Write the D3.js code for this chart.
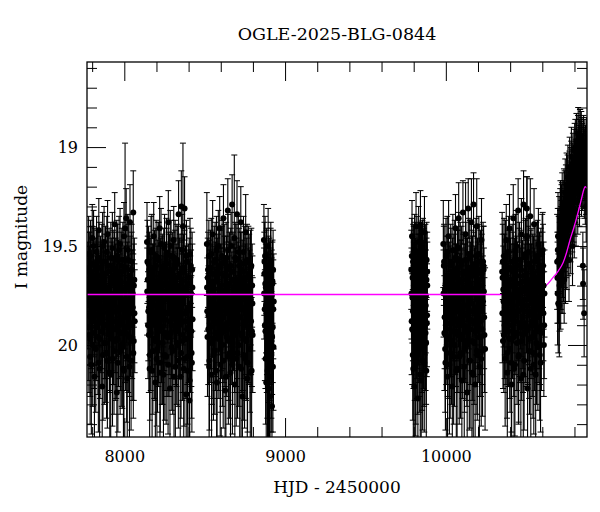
<!DOCTYPE html>
<html>
<head>
<meta charset="utf-8">
<script src="https://cdn.jsdelivr.net/npm/d3@7"></script>
<style>
  body { margin: 0; background: #fff; }
  text { font-family: "DejaVu Serif", serif; fill: #000; }
</style>
</head>
<body>
<svg id="lc" width="600" height="512"></svg>
<script>
// [HJD, I mag, error] per observing season
const season1 = [
  [7773.8,19.79,0.23],[7776.5,19.62,0.19],[7779.9,19.95,0.29],[7783.1,19.71,0.21],[7787.4,20.06,0.34],[7790.2,19.55,0.18],
  [7793.8,19.86,0.26],[7797.0,19.74,0.22],[7800.7,19.46,0.17],[7803.5,20.00,0.31],[7807.9,19.68,0.20],[7810.6,19.82,0.24],
  [7814.3,20.16,0.38],[7817.0,19.60,0.19],[7821.2,19.77,0.22],[7824.8,19.91,0.27],[7827.5,19.53,0.18],[7831.6,19.85,0.25],
  [7834.1,19.70,0.21],[7838.7,20.09,0.35],[7841.4,19.42,0.16],[7844.9,19.78,0.23],[7848.2,19.97,0.30],[7851.8,19.65,0.20],
  [7855.3,19.88,0.26],[7858.0,19.72,0.22],[7862.6,20.21,0.40],[7865.1,19.50,0.17],[7868.9,19.81,0.24],[7872.4,19.67,0.20],
  [7875.7,19.99,0.31],[7879.0,19.75,0.22],[7882.8,19.58,0.18],[7886.1,19.90,0.27],[7889.5,20.04,0.33],[7892.9,19.73,0.21],
  [7896.0,19.44,0.17],[7899.6,19.84,0.25],[7902.8,19.63,0.20],[7906.5,19.94,0.29],[7909.7,20.14,0.37],[7913.3,19.76,0.22],
  [7916.1,19.56,0.18],[7919.8,19.87,0.26],[7923.4,19.69,0.21],[7926.6,20.07,0.34],[7930.2,19.61,0.19],[7933.5,19.92,0.28],
  [7937.1,19.80,0.23],[7940.3,19.39,0.16],[7943.9,19.98,0.30],[7947.2,19.66,0.20],[7950.8,19.83,0.24],[7953.6,20.24,0.41],
  [7957.3,19.57,0.18],[7960.5,19.75,0.22],[7964.1,19.93,0.28],[7967.4,19.52,0.17],[7970.9,19.81,0.24],[7974.2,20.03,0.32],
  [7977.8,19.68,0.20],[7981.0,19.89,0.27],[7984.6,19.60,0.19],[7987.9,20.01,0.31],[7991.3,19.72,0.21],[7994.7,20.12,0.36],
  [7998.0,19.45,0.17],[8001.5,19.79,0.23],[8004.8,19.41,0.43],[8008.1,19.94,0.29],[8011.6,19.36,0.15],[8014.9,19.77,0.22],
  [8018.3,20.17,0.38],[8021.7,19.86,0.25],[8025.0,19.57,0.18],[8028.6,19.71,0.21],[8031.8,19.96,0.30],[8035.4,19.38,0.19],
  [8038.5,19.84,0.24],[8042.1,20.08,0.35],[8045.6,19.62,0.19],[8048.9,19.90,0.27],[8052.3,19.74,0.22],[8055.7,19.33,0.21],
  [8059.0,19.98,0.30],[8062.4,19.67,0.21],[8064.8,19.88,0.26]
];
const season1b = [
  [7772.9,19.70,0.22],[7775.2,19.91,0.27],[7778.0,19.54,0.19],[7781.3,19.85,0.25],[7784.6,19.63,0.20],[7788.1,19.97,0.29],
  [7791.5,19.76,0.23],[7795.0,20.10,0.35],[7798.3,19.59,0.19],[7801.9,19.88,0.26],[7805.2,19.72,0.22],[7808.8,19.50,0.18],
  [7812.1,19.94,0.28],[7815.6,19.81,0.24],[7819.0,19.66,0.20],[7822.5,20.02,0.32],[7825.9,19.74,0.22],[7829.3,19.89,0.27],
  [7832.8,19.61,0.19],[7836.2,19.96,0.29],[7839.8,19.77,0.23],[7843.1,19.56,0.18],[7846.5,20.12,0.36],[7850.0,19.83,0.25],
  [7853.6,19.69,0.21],[7857.0,19.93,0.28],[7860.4,19.58,0.19],[7863.9,19.86,0.26],[7867.3,20.05,0.33],[7870.7,19.73,0.22],
  [7874.2,19.48,0.18],[7877.6,19.90,0.27],[7881.0,19.64,0.20],[7884.5,19.99,0.30],[7887.9,19.79,0.24],[7891.3,19.53,0.18],
  [7894.8,20.08,0.34],[7898.2,19.71,0.21],[7901.6,19.87,0.26],[7905.1,19.60,0.19],[7908.5,19.95,0.29],[7911.9,19.75,0.22],
  [7915.4,20.15,0.37],[7918.8,19.66,0.20],[7922.2,19.84,0.25],[7925.7,19.51,0.18],[7929.1,19.92,0.28],[7932.5,19.78,0.23],
  [7936.0,20.03,0.32],[7939.4,19.62,0.19],[7942.8,19.88,0.26],[7946.3,19.70,0.21],[7949.7,19.97,0.30],[7953.1,19.55,0.18],
  [7956.6,19.82,0.24],[7960.0,20.09,0.35],[7963.4,19.68,0.21],[7966.9,19.90,0.27],[7970.3,19.76,0.22],[7973.7,19.49,0.18],
  [7977.2,19.94,0.29],[7980.6,19.63,0.20],[7984.0,20.00,0.31],[7987.5,19.80,0.24],[7990.9,19.57,0.19],[7994.3,19.86,0.26],
  [7997.8,20.13,0.36],[8001.2,19.72,0.22],[8004.6,19.91,0.28],[8008.0,19.61,0.19],[8011.5,19.83,0.25],[8014.9,20.06,0.33],
  [8018.3,19.69,0.21],[8021.8,19.52,0.18],[8025.2,19.95,0.29],[8028.6,19.77,0.23],[8032.1,20.11,0.36],[8035.5,19.65,0.20],
  [8038.9,19.89,0.27],[8042.4,19.74,0.22],[8045.8,19.58,0.19],[8049.2,19.98,0.30],[8052.7,19.81,0.24],[8056.1,20.04,0.33],
  [8059.5,19.70,0.21],[8063.0,19.84,0.25]
];
const season2 = [
  [8141.2,19.48,0.20],[8143.6,19.58,0.21],[8145.9,19.67,0.22],[8149.3,19.83,0.25],[8152.7,19.95,0.29],[8156.0,19.62,0.19],
  [8159.4,20.05,0.33],[8162.8,19.74,0.22],[8166.1,19.53,0.18],[8169.5,19.88,0.26],[8172.9,20.13,0.37],[8176.2,19.69,0.20],
  [8179.6,19.80,0.24],[8183.0,19.45,0.17],[8186.3,19.97,0.30],[8189.7,19.76,0.22],[8193.1,20.19,0.39],[8196.4,19.60,0.19],
  [8199.8,19.85,0.25],[8203.2,19.71,0.21],[8206.5,20.02,0.32],[8209.9,19.56,0.18],[8213.3,19.91,0.28],[8216.6,19.78,0.23],
  [8220.0,19.41,0.16],[8223.4,20.09,0.35],[8226.7,19.66,0.20],[8230.1,19.82,0.24],[8233.5,19.99,0.31],[8236.8,19.63,0.19],
  [8240.2,19.87,0.26],[8243.6,20.15,0.37],[8246.9,19.73,0.22],[8250.3,19.51,0.17],[8253.7,19.94,0.29],[8257.0,19.70,0.21],
  [8260.4,20.06,0.34],[8263.8,19.59,0.18],[8267.1,19.84,0.25],[8270.5,19.77,0.22],[8273.9,19.38,0.16],[8277.2,19.96,0.30],
  [8280.6,19.64,0.20],[8284.0,20.22,0.40],[8287.3,19.81,0.24],[8290.7,19.55,0.18],[8294.1,19.90,0.27],[8297.4,19.68,0.21],
  [8300.8,20.03,0.32],[8304.2,19.75,0.22],[8307.5,19.47,0.17],[8310.9,19.86,0.26],[8314.3,19.61,0.19],[8317.6,20.11,0.36],
  [8321.0,19.79,0.23],[8324.4,19.93,0.28],[8327.7,19.57,0.18],[8331.1,19.72,0.21],[8334.5,20.00,0.31],[8337.8,19.34,0.17],
  [8341.2,19.83,0.24],[8344.6,19.66,0.20],[8347.9,20.16,0.38],[8351.3,19.89,0.27],[8354.7,19.30,0.18],[8358.0,19.76,0.22],
  [8361.4,19.98,0.30],[8364.8,19.40,0.42],[8368.1,19.63,0.19],[8371.5,20.07,0.34],[8374.9,19.31,0.16],[8378.2,19.84,0.25],
  [8381.6,19.71,0.21],[8385.0,20.25,0.41],[8388.3,19.58,0.18],[8391.7,19.92,0.28],[8395.1,20.13,0.37],[8398.4,19.69,0.20],
  [8401.8,19.81,0.24],[8405.2,20.28,0.42],[8408.5,19.54,0.18],[8411.9,19.95,0.29],[8415.3,19.74,0.22],[8418.6,20.04,0.33],
  [8422.0,19.62,0.19],[8424.7,19.87,0.26]
];
const season2b = [
  [8142.5,19.73,0.22],[8147.6,19.90,0.27],[8151.0,19.59,0.19],[8154.4,19.81,0.24],[8157.7,20.12,0.36],[8161.1,19.66,0.20],
  [8164.5,19.94,0.29],[8167.8,19.77,0.23],[8171.2,19.52,0.18],[8174.6,19.86,0.26],[8177.9,20.03,0.32],[8181.3,19.70,0.21],
  [8184.7,19.89,0.27],[8188.0,19.61,0.19],[8191.4,19.98,0.30],[8194.8,19.75,0.22],[8198.1,19.55,0.18],[8201.5,20.07,0.34],
  [8204.9,19.83,0.25],[8208.2,19.68,0.21],[8211.6,19.93,0.28],[8215.0,19.57,0.19],[8218.3,19.80,0.24],[8221.7,20.14,0.37],
  [8225.1,19.72,0.22],[8228.4,19.49,0.18],[8231.8,19.91,0.28],[8235.2,19.65,0.20],[8238.5,19.99,0.31],[8241.9,19.78,0.23],
  [8245.3,19.60,0.19],[8248.6,19.87,0.26],[8252.0,20.05,0.33],[8255.4,19.69,0.21],[8258.7,19.84,0.25],[8262.1,19.54,0.18],
  [8265.5,19.96,0.30],[8268.8,19.74,0.22],[8272.2,20.10,0.35],[8275.6,19.63,0.20],[8278.9,19.88,0.27],[8282.3,19.71,0.22],
  [8285.7,19.50,0.18],[8289.0,19.94,0.29],[8292.4,19.79,0.23],[8295.8,20.01,0.32],[8299.1,19.62,0.19],[8302.5,19.85,0.26],
  [8305.9,19.67,0.21],[8309.2,20.16,0.38],[8312.6,19.76,0.22],[8316.0,19.56,0.19],[8319.3,19.92,0.28],[8322.7,19.70,0.21],
  [8326.1,19.99,0.31],[8329.4,19.82,0.24],[8332.8,19.59,0.19],[8336.2,20.08,0.34],[8339.5,19.73,0.22],[8342.9,19.90,0.27],
  [8346.3,19.64,0.20],[8349.6,19.85,0.25],[8353.0,20.04,0.33],[8356.4,19.68,0.21],[8359.7,19.52,0.18],[8363.1,19.95,0.29],
  [8366.5,19.77,0.23],[8369.8,20.12,0.36],[8373.2,19.61,0.19],[8376.6,19.88,0.26],[8379.9,19.72,0.22],[8383.3,19.97,0.30],
  [8386.7,19.55,0.18],[8390.0,19.83,0.25],[8393.4,20.06,0.34],[8396.8,19.74,0.22],[8400.1,19.91,0.28],[8403.5,19.66,0.20],
  [8406.9,20.18,0.39],[8410.2,19.79,0.24],[8413.6,19.60,0.19],[8417.0,19.93,0.28],[8420.3,20.09,0.35],[8423.5,19.71,0.22]
];
const season3 = [
  [8513.5,19.49,0.26],[8515.8,19.83,0.27],[8519.2,19.66,0.20],[8522.6,19.92,0.28],[8525.9,19.55,0.18],[8529.3,20.08,0.35],
  [8532.7,19.74,0.22],[8536.0,19.61,0.19],[8539.4,19.86,0.26],[8542.8,20.15,0.38],[8546.1,19.70,0.21],[8549.5,19.44,0.17],
  [8552.9,19.97,0.30],[8556.2,19.79,0.23],[8559.6,19.58,0.18],[8563.0,20.03,0.32],[8566.3,19.68,0.20],[8569.7,19.89,0.27],
  [8573.1,19.52,0.17],[8576.4,20.19,0.39],[8579.8,19.75,0.22],[8583.2,19.64,0.20],[8586.5,19.94,0.29],[8589.9,19.81,0.24],
  [8593.3,19.41,0.16],[8596.6,20.10,0.36],[8600.0,19.72,0.21],[8603.4,19.87,0.26],[8606.7,19.59,0.19],[8610.1,20.00,0.31],
  [8613.5,19.77,0.22],[8616.8,19.36,0.17],[8620.2,19.91,0.28],[8623.6,19.65,0.20],[8626.9,20.23,0.40],[8630.3,19.83,0.24],
  [8633.7,19.56,0.18],[8637.0,19.96,0.30],[8640.4,19.70,0.21],[8643.8,19.32,0.16],[8647.1,20.06,0.34],[8650.5,19.78,0.23],
  [8653.9,19.62,0.19],[8657.2,19.88,0.27],[8660.6,20.14,0.37],[8664.0,19.50,0.17],[8667.3,19.85,0.25],[8670.7,19.29,0.15],
  [8674.1,19.99,0.31],[8677.4,19.67,0.20],[8680.8,19.80,0.24],[8684.2,19.46,0.42],[8687.5,20.20,0.40],[8690.9,19.73,0.22],
  [8694.3,19.57,0.18],[8697.6,19.93,0.28],[8701.0,19.34,0.17],[8704.4,20.04,0.33],[8707.7,19.69,0.21],[8711.1,19.86,0.26],
  [8714.5,19.60,0.19],[8717.8,20.11,0.36],[8721.2,19.76,0.22],[8724.6,19.38,0.18],[8727.9,19.95,0.29],[8731.3,19.63,0.20],
  [8734.7,20.26,0.41],[8738.0,19.82,0.24],[8741.4,19.53,0.18],[8744.8,19.90,0.27],[8748.1,20.07,0.35],[8751.5,19.71,0.21],
  [8754.9,19.43,0.19],[8758.2,19.98,0.30],[8761.6,19.66,0.20],[8765.0,20.17,0.38],[8768.3,19.84,0.25],[8771.7,19.58,0.18],
  [8775.1,19.92,0.28],[8778.4,19.74,0.22],[8781.8,20.02,0.32],[8785.2,19.61,0.19],[8788.5,19.88,0.27],[8791.9,20.13,0.37],
  [8795.3,19.70,0.21],[8798.6,19.95,0.29]
];
const season3b = [
  [8514.6,19.71,0.22],[8517.5,19.96,0.30],[8520.9,19.62,0.19],[8524.2,19.85,0.25],[8527.6,20.11,0.36],[8531.0,19.68,0.21],
  [8534.3,19.91,0.28],[8537.7,19.77,0.23],[8541.1,19.54,0.18],[8544.4,19.99,0.31],[8547.8,19.82,0.24],[8551.2,19.64,0.20],
  [8554.5,20.05,0.33],[8557.9,19.72,0.22],[8561.3,19.88,0.27],[8564.6,19.57,0.19],[8568.0,19.94,0.29],[8571.4,19.75,0.22],
  [8574.7,20.13,0.37],[8578.1,19.66,0.20],[8581.5,19.84,0.25],[8584.8,19.50,0.18],[8588.2,19.97,0.30],[8591.6,19.79,0.23],
  [8594.9,19.61,0.19],[8598.3,20.02,0.32],[8601.7,19.70,0.21],[8605.0,19.90,0.27],[8608.4,19.55,0.18],[8611.8,19.86,0.26],
  [8615.1,20.08,0.34],[8618.5,19.73,0.22],[8621.9,19.58,0.19],[8625.2,19.93,0.28],[8628.6,19.80,0.24],[8632.0,20.16,0.38],
  [8635.3,19.65,0.20],[8638.7,19.89,0.27],[8642.1,19.74,0.22],[8645.4,19.52,0.18],[8648.8,19.98,0.30],[8652.2,19.69,0.21],
  [8655.5,20.04,0.33],[8658.9,19.83,0.25],[8662.3,19.60,0.19],[8665.6,19.92,0.28],[8669.0,19.76,0.23],[8672.4,20.10,0.35],
  [8675.7,19.63,0.20],[8679.1,19.87,0.26],[8682.5,19.71,0.22],[8685.8,19.95,0.29],[8689.2,19.56,0.18],[8692.6,19.82,0.24],
  [8695.9,20.07,0.34],[8699.3,19.67,0.21],[8702.7,19.90,0.27],[8706.0,19.78,0.23],[8709.4,19.53,0.18],[8712.8,20.00,0.31],
  [8716.1,19.72,0.22],[8719.5,19.86,0.26],[8722.9,19.62,0.19],[8726.2,20.12,0.36],[8729.6,19.81,0.24],[8733.0,19.68,0.21],
  [8736.3,19.94,0.29],[8739.7,19.75,0.22],[8743.1,20.05,0.33],[8746.4,19.59,0.19],[8749.8,19.88,0.27],[8753.2,19.70,0.21],
  [8756.5,19.97,0.30],[8759.9,19.84,0.25],[8763.3,19.57,0.18],[8766.6,20.09,0.35],[8770.0,19.73,0.22],[8773.4,19.91,0.28],
  [8776.7,19.64,0.20],[8780.1,19.85,0.26],[8783.5,20.14,0.37],[8786.8,19.77,0.23],[8790.2,19.60,0.19],[8793.6,19.93,0.28],
  [8797.0,19.79,0.24]
];
const season4 = [
  [8868.4,19.47,0.18],[8870.9,19.64,0.21],[8873.2,19.82,0.25],[8875.6,19.55,0.20],[8877.9,19.93,0.29],[8880.3,19.71,0.22],
  [8882.8,20.19,0.30],[8885.1,19.60,0.19],[8887.5,19.88,0.27],[8889.8,20.04,0.33],[8892.2,19.76,0.23],[8894.7,19.50,0.19],
  [8897.0,20.22,0.31],[8899.4,19.85,0.26],[8901.7,19.67,0.21],[8904.1,19.98,0.30],[8906.6,20.26,0.34],[8908.9,19.73,0.22],
  [8911.3,19.58,0.20],[8913.6,20.09,0.35],[8916.0,19.80,0.24],[8918.5,20.31,0.36],[8920.8,19.69,0.21],[8923.2,19.91,0.28],
  [8925.5,19.62,0.20],[8927.9,20.01,0.32],[8929.6,19.78,0.24],
  [8869.6,19.74,0.23],[8872.0,19.58,0.20],[8874.4,19.90,0.28],[8876.8,19.69,0.22],[8879.1,20.07,0.33],[8881.5,19.80,0.24],
  [8884.0,19.63,0.21],[8886.3,19.95,0.29],[8888.7,19.72,0.22],[8891.0,20.13,0.34],[8893.4,19.86,0.26],[8895.9,19.66,0.21],
  [8898.2,19.99,0.30],[8900.5,19.77,0.23],[8902.9,20.16,0.34],[8905.3,19.70,0.22],[8907.8,19.92,0.28],[8910.1,19.61,0.20],
  [8912.4,19.84,0.25],[8914.8,20.05,0.32],[8917.3,19.75,0.23],[8919.6,19.96,0.29],[8922.0,19.68,0.21],[8924.4,20.11,0.33],
  [8926.7,19.82,0.25]
];
const season5 = [
  [9785.1,19.62,0.20],[9787.4,19.88,0.27],[9789.6,19.45,0.18],[9791.9,19.76,0.23],[9794.2,20.05,0.33],[9796.5,19.58,0.19],
  [9798.7,19.93,0.29],[9801.0,19.70,0.22],[9803.3,20.21,0.45],[9805.6,19.52,0.18],[9807.8,19.84,0.25],[9810.1,19.67,0.21],
  [9812.4,20.10,0.36],[9814.7,19.40,0.17],[9816.9,19.79,0.24],[9819.2,19.97,0.30],[9821.5,19.61,0.20],[9823.8,19.86,0.26],
  [9826.0,20.27,0.40],[9828.3,19.73,0.22],[9830.6,19.48,0.18],[9832.9,19.91,0.28],[9835.1,19.65,0.21],[9837.4,20.02,0.32],
  [9839.7,19.77,0.23],[9842.0,19.39,0.17],[9844.2,19.83,0.25],[9846.5,20.18,0.44],[9848.8,19.59,0.19],[9851.1,19.95,0.29],
  [9853.3,19.72,0.22],[9855.6,20.08,0.35],[9857.9,19.54,0.18],[9860.2,19.87,0.26],[9862.4,19.68,0.21],[9864.7,20.00,0.31],
  [9867.0,19.43,0.18],[9869.3,19.81,0.24],[9871.5,19.63,0.20],[9873.8,19.94,0.29],[9876.1,19.75,0.23],[9878.4,20.13,0.36],
  [9880.6,19.57,0.19],[9882.9,19.85,0.26],[9884.5,19.70,0.22],
  [9786.2,19.74,0.23],[9788.5,19.55,0.19],[9790.8,19.92,0.28],[9793.0,19.66,0.21],[9795.3,19.83,0.25],[9797.6,20.12,0.36],
  [9799.9,19.60,0.20],[9802.1,19.87,0.26],[9804.4,19.71,0.22],[9806.7,19.98,0.30],[9809.0,19.57,0.19],[9811.2,19.80,0.24],
  [9813.5,20.06,0.34],[9815.8,19.68,0.21],[9818.1,19.90,0.27],[9820.3,19.53,0.18],[9822.6,19.76,0.23],[9824.9,20.03,0.32],
  [9827.2,19.64,0.20],[9829.4,19.85,0.25],[9831.7,19.72,0.22],[9834.0,19.96,0.30],[9836.3,19.59,0.19],[9838.5,19.82,0.24],
  [9840.8,20.15,0.37],[9843.1,19.69,0.21],[9845.4,19.88,0.26],[9847.6,19.62,0.20],[9849.9,19.78,0.23],[9852.2,20.01,0.32],
  [9854.5,19.56,0.19],[9856.7,19.84,0.25],[9859.0,19.70,0.22],[9861.3,19.93,0.29],[9863.6,19.61,0.20],[9865.8,20.09,0.35],
  [9868.1,19.75,0.23],[9870.4,19.87,0.26],[9872.7,19.58,0.19],[9874.9,19.80,0.24],[9877.2,19.99,0.31],[9879.5,19.67,0.21],
  [9881.8,19.89,0.27],[9884.0,19.63,0.20]
];
const season6 = [
  [9984.2,19.49,0.22],[9987.5,19.60,0.20],[9990.8,19.94,0.29],[9994.1,19.72,0.23],[9997.4,20.09,0.34],[10000.7,19.55,0.19],
  [10004.0,19.86,0.26],[10007.3,19.66,0.21],[10010.6,20.16,0.38],[10013.9,19.78,0.23],[10017.2,19.45,0.18],[10020.5,19.97,0.30],
  [10023.8,19.69,0.21],[10027.1,20.04,0.33],[10030.4,19.58,0.19],[10033.7,19.89,0.27],[10037.0,19.75,0.22],[10040.3,20.21,0.40],
  [10043.6,19.52,0.18],[10046.9,19.83,0.25],[10050.2,19.64,0.20],[10053.5,20.00,0.31],[10056.8,19.80,0.24],[10060.1,19.41,0.17],
  [10063.4,19.93,0.28],[10066.7,19.70,0.21],[10070.0,20.12,0.36],[10073.3,19.61,0.19],[10076.6,19.87,0.26],[10079.9,19.36,0.18],
  [10083.2,20.06,0.34],[10086.5,19.76,0.22],[10089.8,19.57,0.19],[10093.1,19.95,0.29],[10096.4,19.68,0.21],[10099.7,20.18,0.39],
  [10103.0,19.82,0.24],[10106.3,19.33,0.16],[10109.6,19.90,0.27],[10112.9,19.63,0.20],[10116.2,20.02,0.32],[10119.5,19.74,0.22],
  [10122.8,19.44,0.26],[10126.1,19.98,0.30],[10129.4,19.67,0.21],[10132.7,20.24,0.40],[10136.0,19.85,0.25],[10139.3,19.31,0.15],
  [10142.6,19.79,0.23],[10145.9,20.08,0.35],[10149.2,19.56,0.19],[10152.5,19.92,0.28],[10155.8,19.71,0.21],[10159.1,19.38,0.22],
  [10162.4,20.14,0.37],[10165.7,19.65,0.20],[10169.0,19.88,0.27],[10172.3,19.29,0.16],[10175.6,19.99,0.31],[10178.9,19.73,0.22],
  [10182.2,20.20,0.39],[10185.5,19.59,0.19],[10188.8,19.84,0.25],[10192.1,19.40,0.24],[10195.4,20.05,0.33],[10198.7,19.69,0.21],
  [10202.0,19.91,0.28],[10205.3,19.54,0.19],[10208.6,20.11,0.36],[10211.9,19.77,0.23],[10215.2,19.62,0.20],[10218.5,19.96,0.30],
  [10221.8,19.47,0.21],[10225.1,19.81,0.24],[10228.4,20.03,0.33],[10231.7,19.58,0.20],[10235.0,19.62,0.22],[10238.3,19.86,0.26],
  [10244.0,20.02,0.41]
];
const season6b = [
  [9985.8,19.74,0.22],[9989.1,19.58,0.19],[9992.4,19.86,0.26],[9995.7,20.02,0.32],[9999.0,19.69,0.21],[10002.3,19.92,0.28],
  [10005.6,19.77,0.23],[10008.9,19.53,0.18],[10012.2,19.96,0.30],[10015.5,19.65,0.20],[10018.8,19.84,0.25],[10022.1,20.10,0.35],
  [10025.4,19.72,0.22],[10028.7,19.89,0.27],[10032.0,19.60,0.19],[10035.3,19.99,0.31],[10038.6,19.81,0.24],[10041.9,19.67,0.21],
  [10045.2,19.93,0.28],[10048.5,20.06,0.34],[10051.8,19.75,0.22],[10055.1,19.56,0.19],[10058.4,19.88,0.27],[10061.7,19.70,0.21],
  [10065.0,20.13,0.36],[10068.3,19.83,0.25],[10071.6,19.62,0.20],[10074.9,19.95,0.29],[10078.2,19.78,0.23],[10081.5,19.51,0.18],
  [10084.8,19.90,0.27],[10088.1,19.68,0.21],[10091.4,20.04,0.33],[10094.7,19.86,0.26],[10098.0,19.59,0.19],[10101.3,19.73,0.22],
  [10104.6,19.97,0.30],[10107.9,19.64,0.20],[10111.2,19.85,0.25],[10114.5,20.11,0.36],[10117.8,19.71,0.22],[10121.1,19.91,0.28],
  [10124.4,19.57,0.19],[10127.7,19.80,0.24],[10131.0,20.00,0.31],[10134.3,19.66,0.20],[10137.6,19.94,0.29],[10140.9,19.76,0.23],
  [10144.2,19.54,0.18],[10147.5,19.87,0.26],[10150.8,20.08,0.34],[10154.1,19.69,0.21],[10157.4,19.83,0.25],[10160.7,19.61,0.19],
  [10164.0,19.98,0.30],[10167.3,19.74,0.22],[10170.6,20.15,0.37],[10173.9,19.63,0.20],[10177.2,19.89,0.27],[10180.5,19.72,0.22],
  [10183.8,19.93,0.28],[10187.1,19.55,0.19],[10190.4,19.81,0.24],[10193.7,20.03,0.32],[10197.0,19.67,0.21],[10200.3,19.86,0.26],
  [10203.6,19.75,0.22],[10206.9,19.58,0.19],[10210.2,19.96,0.30],[10213.5,19.70,0.21],[10216.8,19.88,0.27],[10220.1,20.07,0.34],
  [10223.4,19.64,0.20],[10226.7,19.92,0.28],[10230.0,19.78,0.23],[10233.3,19.60,0.20],[10236.6,19.73,0.22],[10239.9,19.95,0.29]
];
const season7 = [
  [10350.3,19.63,0.30],[10352.8,19.66,0.22],[10355.4,19.98,0.24],[10358.9,19.78,0.23],[10362.2,19.55,0.19],[10365.6,19.90,0.27],
  [10368.9,20.07,0.34],[10372.3,19.69,0.21],[10375.7,19.47,0.18],[10379.0,19.84,0.25],[10382.4,20.14,0.37],[10385.8,19.62,0.20],
  [10389.1,19.93,0.28],[10392.5,19.74,0.22],[10395.9,19.41,0.17],[10399.2,20.02,0.32],[10402.6,19.67,0.21],[10406.0,19.87,0.26],
  [10409.3,20.20,0.39],[10412.7,19.58,0.19],[10416.1,19.80,0.24],[10419.4,19.36,0.17],[10422.8,19.96,0.30],[10426.2,19.71,0.22],
  [10429.5,20.10,0.36],[10432.9,19.52,0.18],[10436.3,19.85,0.25],[10439.6,19.65,0.20],[10443.0,19.99,0.31],[10446.4,19.76,0.23],
  [10449.7,19.32,0.16],[10453.1,20.05,0.34],[10456.5,19.60,0.19],[10459.8,19.89,0.27],[10463.2,19.73,0.22],[10466.6,20.17,0.38],
  [10469.9,19.44,0.18],[10473.3,19.82,0.24],[10476.7,19.68,0.21],[10480.0,19.95,0.29],[10483.4,19.29,0.17],[10486.8,20.08,0.35],
  [10490.1,19.77,0.23],[10493.5,19.56,0.19],[10496.9,19.91,0.28],[10500.2,19.64,0.20],[10503.6,19.31,0.16],[10505.0,19.45,0.30],
  [10508.3,20.22,0.40],[10511.7,19.83,0.25],[10515.1,19.53,0.18],[10518.4,19.97,0.30],[10521.8,19.70,0.21],[10525.2,19.35,0.19],
  [10528.5,20.12,0.37],[10531.9,19.79,0.24],[10535.3,19.61,0.20],[10538.6,19.88,0.27],[10542.0,20.04,0.33],[10545.4,19.66,0.21],
  [10548.7,19.39,0.18],[10552.1,19.94,0.29],[10555.5,19.75,0.22],[10558.8,20.15,0.38],[10562.2,19.57,0.19],[10565.6,19.86,0.26],
  [10568.9,19.72,0.22],[10572.3,20.01,0.32],[10575.7,19.49,0.18],[10579.0,19.81,0.24],[10582.4,19.63,0.20],[10585.8,19.92,0.28],
  [10589.1,20.09,0.35],[10592.5,19.69,0.21],[10595.9,19.84,0.25],[10599.2,19.54,0.20],[10602.6,19.52,0.19],[10604.5,19.60,0.21],
  [10606.8,19.84,0.24],[10609.6,20.00,0.26],[10613.4,19.74,0.22]
];
const season7b = [
  [10351.6,19.84,0.25],[10354.1,19.58,0.19],[10357.2,19.72,0.22],[10360.5,19.95,0.29],[10363.9,19.64,0.20],[10367.2,19.81,0.24],
  [10370.6,19.56,0.19],[10374.0,19.92,0.28],[10377.3,19.75,0.22],[10380.7,20.04,0.33],[10384.1,19.68,0.21],[10387.4,19.87,0.26],
  [10390.8,19.53,0.18],[10394.2,19.78,0.23],[10397.5,19.97,0.30],[10400.9,19.61,0.19],[10404.3,19.84,0.25],[10407.6,20.09,0.35],
  [10411.0,19.70,0.21],[10414.4,19.90,0.27],[10417.7,19.63,0.20],[10421.1,19.76,0.23],[10424.5,20.12,0.36],[10427.8,19.66,0.20],
  [10431.2,19.88,0.27],[10434.6,19.74,0.22],[10437.9,19.50,0.18],[10441.3,19.94,0.29],[10444.7,19.69,0.21],[10448.0,19.83,0.25],
  [10451.4,20.06,0.34],[10454.8,19.72,0.22],[10458.1,19.57,0.19],[10461.5,19.91,0.28],[10464.9,19.79,0.23],[10468.2,19.62,0.20],
  [10471.6,19.98,0.30],[10475.0,19.73,0.22],[10478.3,19.86,0.26],[10481.7,20.15,0.37],[10485.1,19.65,0.20],[10488.4,19.89,0.27],
  [10491.8,19.71,0.22],[10495.2,19.54,0.18],[10498.5,19.93,0.28],[10501.9,19.80,0.24],[10507.0,19.67,0.21],[10510.0,19.92,0.28],
  [10513.4,19.59,0.19],[10516.8,19.85,0.25],[10520.1,20.03,0.32],[10523.5,19.76,0.23],[10526.9,19.61,0.19],[10530.2,19.90,0.27],
  [10533.6,19.70,0.21],[10537.0,19.96,0.30],[10540.3,19.64,0.20],[10543.7,19.82,0.24],[10547.1,20.10,0.35],[10550.4,19.73,0.22],
  [10553.8,19.58,0.19],[10557.2,19.88,0.26],[10560.5,19.68,0.21],[10563.9,19.99,0.31],[10567.3,19.77,0.23],[10570.6,19.55,0.18],
  [10574.0,19.91,0.28],[10577.4,19.66,0.21],[10580.7,19.86,0.26],[10584.1,20.05,0.33],[10587.5,19.72,0.22],[10590.8,19.60,0.19],
  [10594.2,19.94,0.29],[10597.6,19.78,0.23],[10601.0,19.63,0.20],[10608.1,19.70,0.22],[10611.5,19.90,0.27]
];
const season8 = [
  [10692.4,19.58,0.24],[10695.1,19.74,0.26],[10697.8,19.45,0.22],[10700.6,19.66,0.23],[10703.3,19.52,0.21],[10706.0,19.80,0.26],
  [10708.7,19.60,0.22],[10711.5,19.41,0.20],[10714.2,19.69,0.23],[10716.9,19.50,0.20],[10719.6,19.38,0.19],[10722.4,19.40,0.22],
  [10725.1,19.55,0.21],[10727.8,19.62,0.22],[10730.5,19.35,0.18],[10733.3,19.48,0.19],[10736.0,19.67,0.22],[10738.7,19.30,0.18],
  [10741.4,19.44,0.19],[10744.2,19.58,0.21],[10746.9,19.26,0.17],[10749.6,19.39,0.18],[10752.3,19.52,0.20],[10755.1,19.33,0.17],
  [10757.8,19.20,0.16],[10760.5,19.46,0.19],[10763.2,19.29,0.17],[10766.0,19.57,0.21],[10768.7,19.18,0.16],[10771.4,19.36,0.18],
  [10774.1,19.24,0.16],[10776.9,19.45,0.19],[10779.6,19.12,0.15],[10782.3,19.31,0.17],[10785.0,19.21,0.16],[10787.8,19.50,0.20],
  [10790.5,19.08,0.15],[10793.2,19.27,0.17],[10795.9,19.16,0.15],[10798.7,19.38,0.18],[10801.4,19.02,0.14],[10804.1,19.22,0.16],
  [10806.8,19.11,0.15],[10809.6,19.33,0.17],[10812.3,18.97,0.14],[10815.0,19.17,0.15],[10817.7,19.06,0.14],[10820.5,19.28,0.16],
  [10823.2,18.93,0.13],[10825.9,19.13,0.15],[10828.6,19.03,0.14],[10831.4,19.24,0.16],[10834.1,18.95,0.14],[10835.8,18.97,0.16],
  [10838.5,19.10,0.15],[10841.3,19.01,0.14],[10844.0,19.19,0.16],[10846.7,18.99,0.14],[10849.4,19.08,0.15],[10852.2,19.60,0.17],
  [10853.5,19.69,0.18],[10855.0,19.15,0.16],[10857.6,19.04,0.14],[10860.3,19.84,0.22],[10862.1,19.12,0.15],[10864.8,19.00,0.14],
  [10867.5,19.22,0.17],[10870.2,19.07,0.15],[10872.9,19.30,0.18],[10875.6,19.10,0.16]
];
const season8b = [
  [10693.8,19.66,0.23],[10696.5,19.52,0.21],[10699.2,19.79,0.25],[10702.0,19.57,0.22],[10704.7,19.45,0.20],[10707.4,19.70,0.23],
  [10710.1,19.53,0.21],[10712.9,19.36,0.19],[10715.6,19.60,0.22],[10718.3,19.47,0.20],[10721.0,19.62,0.22],[10723.8,19.31,0.18],
  [10726.5,19.49,0.20],[10729.2,19.41,0.19],[10731.9,19.57,0.21],[10734.7,19.28,0.17],[10737.4,19.42,0.19],[10740.1,19.51,0.20],
  [10742.8,19.23,0.17],[10745.6,19.37,0.18],[10748.3,19.47,0.19],[10751.0,19.19,0.16],[10753.7,19.34,0.18],[10756.5,19.42,0.19],
  [10759.2,19.15,0.16],[10761.9,19.30,0.17],[10764.6,19.39,0.18],[10767.4,19.23,0.16],[10770.1,19.10,0.15],[10772.8,19.28,0.17],
  [10775.5,19.40,0.18],[10778.3,19.17,0.16],[10781.0,19.05,0.15],[10783.7,19.26,0.17],[10786.4,19.35,0.18],[10789.2,19.13,0.15],
  [10791.9,19.20,0.16],[10794.6,19.31,0.17],[10797.3,19.06,0.15],[10800.1,19.18,0.16],[10802.8,19.28,0.17],[10805.5,19.00,0.14],
  [10808.2,19.14,0.15],[10811.0,19.23,0.16],[10813.7,19.05,0.14],[10816.4,19.12,0.15],[10819.1,19.20,0.16],[10821.9,18.98,0.14],
  [10824.6,19.09,0.15],[10827.3,19.18,0.16],[10830.0,19.00,0.14],[10832.8,19.07,0.15],[10837.1,19.15,0.15],[10839.9,19.04,0.14],
  [10842.6,18.96,0.14],[10845.3,19.11,0.15],[10848.1,19.02,0.14],[10850.8,19.16,0.16],[10856.3,18.98,0.14],[10859.0,19.09,0.15],
  [10861.4,19.20,0.16],[10863.5,19.06,0.15],[10866.1,19.14,0.16],[10868.8,19.03,0.14],[10871.6,19.18,0.16],[10874.3,19.00,0.15],
  [10877.0,19.13,0.16]
];

// microlensing model curve
const modelT = [7768, 10300, 10400, 10461, 10530, 10586, 10630, 10666, 10700, 10729, 10752, 10772, 10795, 10816, 10835, 10847, 10858, 10866, 10875, 10884];
const modelM = [19.745, 19.745, 19.744, 19.742, 19.735, 19.72, 19.695, 19.66, 19.625, 19.585, 19.53, 19.47, 19.41, 19.35, 19.29, 19.25, 19.215, 19.20, 19.205, 19.21];

const xMajor = [8000, 9000, 10000];
const xMinor = [7800, 8200, 8400, 8600, 8800, 9200, 9400, 9600, 9800, 10200, 10400, 10600, 10800];
const yMajor = [19, 19.5, 20];
const yMinor = [18.6, 18.7, 18.8, 18.9, 19.1, 19.2, 19.3, 19.4, 19.6, 19.7, 19.8, 19.9, 20.1, 20.2, 20.3, 20.4];

const svg = d3.select('#lc');
const margin = {top: 62, right: 13, bottom: 75, left: 87};
const width = 600 - margin.left - margin.right;
const height = 512 - margin.top - margin.bottom;

const chart = svg.append('g')
  .attr('transform', `translate(${margin.left}, ${margin.top})`);

const xScale = d3.scaleLinear()
  .domain([7768, 10878])
  .range([0, width]);

// magnitudes: brighter is up
const yScale = d3.scaleLinear()
  .domain([18.57, 20.465])
  .range([0, height]);

chart.append('clipPath')
  .attr('id', 'plotclip')
  .append('rect')
  .attr('width', width)
  .attr('height', height);

const noDomain = g => g.select('.domain').remove();

// ticks point inward on all four sides
chart.append('g')
  .attr('transform', `translate(0, ${height})`)
  .call(d3.axisBottom(xScale).tickValues(xMinor).tickSize(-10).tickFormat(''))
  .call(noDomain);
chart.append('g')
  .attr('class', 'xaxis')
  .attr('transform', `translate(0, ${height})`)
  .call(d3.axisBottom(xScale).tickValues(xMajor).tickSize(-19).tickPadding(14).tickFormat(d => String(d)))
  .call(noDomain);
chart.append('g')
  .call(d3.axisTop(xScale).tickValues(xMinor).tickSize(-10).tickFormat(''))
  .call(noDomain);
chart.append('g')
  .call(d3.axisTop(xScale).tickValues(xMajor).tickSize(-19).tickFormat(''))
  .call(noDomain);

chart.append('g')
  .call(d3.axisLeft(yScale).tickValues(yMinor).tickSize(-10).tickFormat(''))
  .call(noDomain);
chart.append('g')
  .attr('class', 'yaxis')
  .call(d3.axisLeft(yScale).tickValues(yMajor).tickSize(-19).tickPadding(9).tickFormat(d => String(d)))
  .call(noDomain);
chart.append('g')
  .attr('transform', `translate(${width}, 0)`)
  .call(d3.axisRight(yScale).tickValues(yMinor).tickSize(-10).tickFormat(''))
  .call(noDomain);
chart.append('g')
  .attr('transform', `translate(${width}, 0)`)
  .call(d3.axisRight(yScale).tickValues(yMajor).tickSize(-19).tickFormat(''))
  .call(noDomain);

chart.selectAll('.tick line').attr('stroke', '#000').attr('stroke-width', 1);
chart.selectAll('.tick text')
  .attr('font-family', '"DejaVu Serif", serif')
  .attr('font-size', 16)
  .attr('fill', '#000');

const dataLayer = chart.append('g').attr('clip-path', 'url(#plotclip)');

function drawSeason(rows) {
  const pts = dataLayer.append('g')
    .selectAll('g')
    .data(rows)
    .enter()
    .append('g');

  pts.append('line')
    .attr('x1', d => xScale(d[0]))
    .attr('x2', d => xScale(d[0]))
    .attr('y1', d => yScale(d[1] - d[2]))
    .attr('y2', d => yScale(d[1] + d[2]))
    .attr('stroke', '#000')
    .attr('stroke-width', 1.1);

  pts.append('line')
    .attr('x1', d => xScale(d[0]) - 3)
    .attr('x2', d => xScale(d[0]) + 3)
    .attr('y1', d => yScale(d[1] - d[2]))
    .attr('y2', d => yScale(d[1] - d[2]))
    .attr('stroke', '#000');

  pts.append('line')
    .attr('x1', d => xScale(d[0]) - 3)
    .attr('x2', d => xScale(d[0]) + 3)
    .attr('y1', d => yScale(d[1] + d[2]))
    .attr('y2', d => yScale(d[1] + d[2]))
    .attr('stroke', '#000');

  pts.append('circle')
    .attr('cx', d => xScale(d[0]))
    .attr('cy', d => yScale(d[1]))
    .attr('r', 3)
    .attr('fill', '#000');
}

[season1, season1b, season2, season2b, season3, season3b, season4, season5, season6, season6b, season8, season8b].forEach(drawSeason);

const model = modelT.map((t, i) => [t, modelM[i]]);
dataLayer.append('path')
  .datum(model)
  .attr('fill', 'none')
  .attr('stroke', '#ff00ff')
  .attr('stroke-width', 1.3)
  .attr('d', d3.line()
    .x(d => xScale(d[0]))
    .y(d => yScale(d[1]))
    .curve(d3.curveMonotoneX));

// this season sits on top of the model line in the original
[season7, season7b].forEach(drawSeason);

chart.append('rect')
  .attr('width', width)
  .attr('height', height)
  .attr('fill', 'none')
  .attr('stroke', '#000')
  .attr('stroke-width', 1.3);

svg.append('text')
  .attr('x', margin.left + width / 2)
  .attr('y', 40)
  .attr('text-anchor', 'middle')
  .attr('font-size', 17.5)
  .text('OGLE-2025-BLG-0844');

svg.append('text')
  .attr('x', margin.left + width / 2)
  .attr('y', 493)
  .attr('text-anchor', 'middle')
  .attr('font-size', 17)
  .text('HJD - 2450000');

svg.append('text')
  .attr('transform', 'translate(27, 237) rotate(-90)')
  .attr('text-anchor', 'middle')
  .attr('font-size', 17)
  .text('I magnitude');
</script>
</body>
</html>
